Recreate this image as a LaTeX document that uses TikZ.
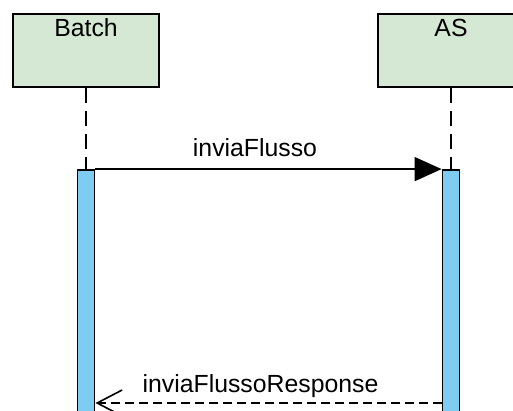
\documentclass[tikz,border=0pt]{standalone}
\usepackage{fontspec}
\setmainfont{Liberation Sans}
\usetikzlibrary{arrows.meta, positioning, calc}
\definecolor{actorgreen}{RGB}{213,232,212}
\definecolor{barblue}{RGB}{126,204,242}

\begin{document}
\begin{tikzpicture}[x=1pt, y=-1pt,
  actor/.style={draw, line width=2.4pt, fill=actorgreen, minimum width=146pt, minimum height=73pt, inner sep=0pt},
  actbar/.style={draw, line width=1.8pt, fill=barblue, minimum width=17pt, minimum height=270pt, inner sep=0pt},
  lifeline/.style={line width=1.6pt, dash pattern=on 15pt off 8pt},
  msgfont/.style={font=\fontsize{24.8}{29}\selectfont, anchor=base, inner sep=0pt}]
  \useasboundingbox (0,0) rectangle (513,411);

  \node[actor] (batch) at (86,50.5) {};
  \node[actor] (as) at (451,50.5) {};
  \node[msgfont] (batchlbl) at (86,37) {Batch};
  \node[msgfont] (aslbl) at (451,37) {AS};

  \node[actbar] (batchbar) at (86,305) {};
  \node[actbar] (asbar) at (451,305) {};

  \draw[lifeline] (batch) -- (batchbar);
  \draw[lifeline] (as) -- (asbar);

  % request
  \draw[line width=1.6pt, -{Triangle[length=27pt, width=24pt]}] (batchbar.north east) -- (asbar.north west);
  \node[msgfont] (reqlbl) at (255,157) {inviaFlusso};

  % response
  \coordinate (resp) at (0,403);
  \draw[line width=1.6pt, dash pattern=on 9pt off 5pt, -{Straight Barb[length=25pt, width=26pt]}] (asbar.west |- resp) -- (batchbar.east |- resp);
  \node[msgfont] (resplbl) at (260.5,392) {inviaFlussoResponse};
\end{tikzpicture}
\end{document}
